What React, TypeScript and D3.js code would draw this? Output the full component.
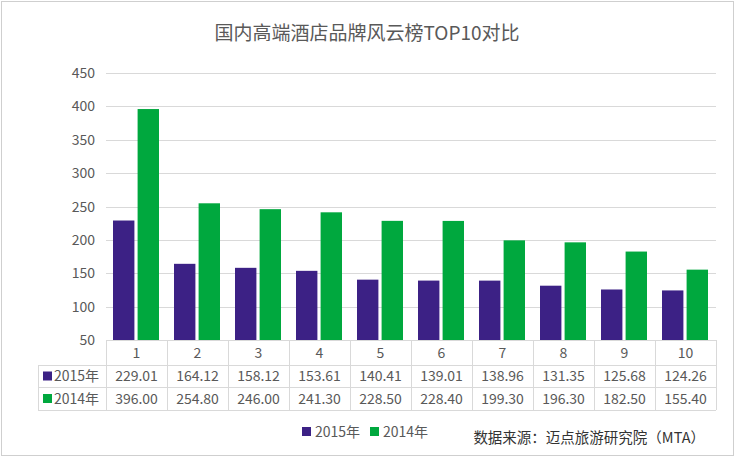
import * as d3 from 'd3';
import React from 'react';
import { useRef, useEffect } from 'react';

const categories = ['1', '2', '3', '4', '5', '6', '7', '8', '9', '10'];
const seriesNames = ['2015年', '2014年'];
const values2015 = [229.01, 164.12, 158.12, 153.61, 140.41, 139.01, 138.96, 131.35, 125.68, 124.26];
const values2014 = [396.0, 254.8, 246.0, 241.3, 228.5, 228.4, 199.3, 196.3, 182.5, 155.4];
const yTicks = [50, 100, 150, 200, 250, 300, 350, 400, 450];
const colors = ['#3c2185', '#00a83e'];

const title = '国内高端酒店品牌风云榜TOP10对比';
const source = '数据来源：迈点旅游研究院（MTA）';

const W = 735;
const H = 457;
const FONT = '"Noto Sans CJK SC", "Microsoft YaHei", sans-serif';
const TEXT = '#595959';
const GRID = '#d9d9d9';

export default function App() {
  const svgRef = useRef<SVGSVGElement | null>(null);

  useEffect(() => {
    if (!svgRef.current) return;
    const svg = d3.select(svgRef.current);
    svg.selectAll('*').remove();

    const left = 106;
    const right = 716;
    const top = 73;
    const bottom = 340;

    const x = d3.scaleBand<string>().domain(categories).range([left, right]);
    const inner = d3
      .scaleBand<string>()
      .domain(seriesNames)
      .range([7, x.bandwidth() - 8])
      .paddingInner(0.13);
    const y = d3.scaleLinear().domain([50, 450]).range([bottom, top]);

    // outer frame
    svg
      .append('rect')
      .attr('x', 1.5)
      .attr('y', 1.5)
      .attr('width', W - 3)
      .attr('height', H - 3)
      .attr('fill', '#fff')
      .attr('stroke', '#cfcfcf');

    svg
      .append('text')
      .attr('x', 367)
      .attr('y', 40)
      .attr('text-anchor', 'middle')
      .attr('font-size', 19)
      .attr('fill', TEXT)
      .text(title);

    // grid + y labels
    const g = svg.append('g');
    yTicks.forEach((t) => {
      if (t !== 50) {
        g.append('line')
          .attr('x1', left)
          .attr('x2', right)
          .attr('y1', Math.round(y(t)) + 0.5)
          .attr('y2', Math.round(y(t)) + 0.5)
          .attr('stroke', GRID);
      }
      g.append('text')
        .attr('x', 95)
        .attr('y', y(t) + 5)
        .attr('text-anchor', 'end')
        .attr('font-size', 14)
        .attr('fill', TEXT)
        .text(t);
    });

    // bars
    const series = [values2015, values2014];
    series.forEach((vals, si) => {
      svg
        .append('g')
        .selectAll('rect')
        .data(vals)
        .join('rect')
        .attr('x', (_, i) => x(categories[i])! + inner(seriesNames[si])!)
        .attr('y', (d) => y(d))
        .attr('width', inner.bandwidth())
        .attr('height', (d) => y(50) - y(d))
        .attr('fill', colors[si]);
    });

    // data table
    const rows = [bottom, 365, 387, 410];
    const tbl = svg.append('g').attr('stroke', GRID).attr('fill', 'none');
    tbl.append('line').attr('x1', left).attr('x2', right).attr('y1', rows[0] + 0.5).attr('y2', rows[0] + 0.5);
    [1, 2, 3].forEach((r) =>
      tbl.append('line').attr('x1', 38).attr('x2', right).attr('y1', rows[r] + 0.5).attr('y2', rows[r] + 0.5)
    );
    const colEdges = categories.map((c) => x(c)!).concat([right]);
    colEdges.forEach((cx) =>
      tbl
        .append('line')
        .attr('x1', Math.round(cx) + 0.5)
        .attr('x2', Math.round(cx) + 0.5)
        .attr('y1', rows[0])
        .attr('y2', rows[3])
    );
    tbl.append('line').attr('x1', 38.5).attr('x2', 38.5).attr('y1', rows[1]).attr('y2', rows[3]);

    categories.forEach((c) => {
      svg
        .append('text')
        .attr('x', x(c)! + x.bandwidth() / 2)
        .attr('y', (rows[0] + rows[1]) / 2 + 5)
        .attr('text-anchor', 'middle')
        .attr('font-size', 14)
        .attr('fill', TEXT)
        .text(c);
    });

    series.forEach((vals, si) => {
      const cy = (rows[si + 1] + rows[si + 2]) / 2;
      svg
        .append('rect')
        .attr('x', 43)
        .attr('y', cy - 4.5)
        .attr('width', 9)
        .attr('height', 9)
        .attr('fill', colors[si]);
      svg
        .append('text')
        .attr('x', 54)
        .attr('y', cy + 5)
        .attr('font-size', 14)
        .attr('fill', TEXT)
        .text(seriesNames[si]);
      vals.forEach((v, i) => {
        svg
          .append('text')
          .attr('x', x(categories[i])! + x.bandwidth() / 2)
          .attr('y', cy + 5)
          .attr('text-anchor', 'middle')
          .attr('font-size', 14)
          .attr('fill', TEXT)
          .text(v.toFixed(2));
      });
    });

    // legend
    const legendX = [302, 370];
    seriesNames.forEach((name, si) => {
      svg
        .append('rect')
        .attr('x', legendX[si])
        .attr('y', 427)
        .attr('width', 9)
        .attr('height', 9)
        .attr('fill', colors[si]);
      svg
        .append('text')
        .attr('x', legendX[si] + 13)
        .attr('y', 437)
        .attr('font-size', 14)
        .attr('fill', TEXT)
        .text(name);
    });

    svg
      .append('text')
      .attr('x', 705)
      .attr('y', 443)
      .attr('text-anchor', 'end')
      .attr('font-size', 14.5)
      .attr('fill', '#333')
      .text(source);
  }, []);

  return (
    <svg
      ref={svgRef}
      width={W}
      height={H}
      style={{ position: 'absolute', left: 0, top: 0, fontFamily: FONT }}
    />
  );
}
